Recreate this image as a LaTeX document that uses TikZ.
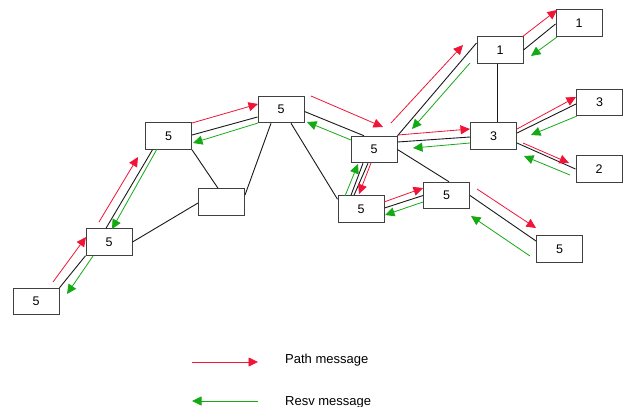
\documentclass[tikz,border=0pt]{standalone}
\usepackage{fontspec}
\setmainfont{Liberation Sans}
\usetikzlibrary{arrows.meta}
\definecolor{pathred}{RGB}{240,20,55}
\definecolor{resvgreen}{RGB}{20,170,20}
\tikzset{
  router/.style={draw=black!75, line width=1pt, fill=white, minimum width=46pt,
    minimum height=26.5pt, inner sep=0pt, font=\fontsize{12.5}{14}\selectfont},
  link/.style={draw=black!90, line width=0.9pt},
  pathmsg/.style={draw=pathred, line width=0.8pt, -{Triangle[length=9.5pt,width=9pt]}},
  resvmsg/.style={draw=resvgreen, line width=0.8pt, -{Triangle[length=9.5pt,width=9pt]}},
  legendtext/.style={anchor=base west, inner sep=0pt, font=\fontsize{13}{15}\selectfont}
}
\begin{document}
\begin{tikzpicture}[x=1pt, y=-1pt]
\useasboundingbox (0,0) rectangle (624,407);

% routers
\node[router] (A) at (36,301.5) {5};
\node[router] (B) at (109,242) {5};
\node[router] (C) at (168.5,136) {5};
\node[router] (D) at (281,109.5) {5};
\node[router] (E) at (221.5,202) {};
\node[router] (F) at (374,149.5) {5};
\node[router] (G) at (361,209) {5};
\node[router] (H) at (446.5,195.5) {5};
\node[router] (I) at (493.5,136) {3};
\node[router] (J) at (500,50) {1};
\node[router] (K) at (579,23) {1};
\node[router] (L) at (599.5,102.5) {3};
\node[router] (M) at (599,169) {2};
\node[router] (N) at (559.5,249) {5};

% links between routers
\draw[link] (A.north east) -- (B.south west);
\draw[link] ([xshift=-3pt]B.north) -- ([xshift=-16pt]C.south);
\draw[link] ([yshift=1pt]C.east) -- ([yshift=-7.5pt]D.west);
\draw[link] (C.south east) -- ([xshift=-3.5pt]E.north);
\draw[link] ([xshift=-10pt]D.south) -- ([yshift=7pt]E.east);
\draw[link] ([xshift=10pt]D.south) -- ([yshift=-4pt]G.north west);
\draw[link] (B.east) -- ([yshift=-1pt]E.west);
\draw[link] ([yshift=-2pt]D.east) -- ([xshift=-10pt]F.north);
\draw[link] ([xshift=-11pt]F.south) -- ([xshift=-10pt]G.north);
\draw[link] ([xshift=-6pt]F.south) -- ([xshift=-7pt]G.north);
\draw[link] (F.north east) -- ([yshift=7pt]J.west);
\draw[link] ([yshift=7.5pt]F.east) -- ([yshift=-1pt]I.west);
\draw[link] (F.east) -- ([xshift=2.5pt]H.north);
\draw[link] ([yshift=1pt]G.east) -- (H.west);
\draw[link] (H.east) -- ([yshift=8pt]N.west);
\draw[link] ([xshift=3.5pt]I.north) -- ([xshift=-3pt]J.south);
\draw[link] ([yshift=3pt]I.east) -- ([yshift=-1.5pt]L.west);
\draw[link] ([yshift=-7pt]I.east) -- (M.west);
\draw[link] (J.east) -- ([yshift=-1pt]K.west);

% Path messages, downstream
\draw[pathmsg] (53,282) -- (86,237);
\draw[pathmsg] (99,222) -- (138,157);
\draw[pathmsg] (192,123) -- (258,104);
\draw[pathmsg] (311,96) -- (383,127);
\draw[pathmsg] (391,123) -- (463,45);
\draw[pathmsg] (522,37) -- (557,10);
\draw[pathmsg] (398,135) -- (470,129);
\draw[pathmsg] (371,163) -- (359,194);
\draw[pathmsg] (384,202) -- (423,188);
\draw[pathmsg] (477,189) -- (536,228);
\draw[pathmsg] (517,129) -- (576,97);
\draw[pathmsg] (523,143) -- (569,163);

% Resv messages, upstream
\draw[resvmsg] (93,256) -- (67,294);
\draw[resvmsg] (157,149) -- (112,229);
\draw[resvmsg] (258,123) -- (193,143);
\draw[resvmsg] (351,140) -- (307,122);
\draw[resvmsg] (470,63) -- (412,129);
\draw[resvmsg] (557,37) -- (531,56);
\draw[resvmsg] (470,143) -- (413,148);
\draw[resvmsg] (345,196) -- (358,164);
\draw[resvmsg] (423,202) -- (385,215);
\draw[resvmsg] (530,256) -- (471,216);
\draw[resvmsg] (577,116) -- (531,135);
\draw[resvmsg] (570,175) -- (524,156);

% legend
\coordinate (pl0) at (192,362);
\coordinate (pl1) at (258,362);
\draw[pathmsg] (pl0) -- (pl1);
\node[legendtext] (pathlabel) at (285,363) {Path message};
\coordinate (rl0) at (258,401);
\coordinate (rl1) at (192,401);
\draw[resvmsg] (rl0) -- (rl1);
\node[legendtext] (resvlabel) at (285,405) {Resv message};
\end{tikzpicture}
\end{document}
